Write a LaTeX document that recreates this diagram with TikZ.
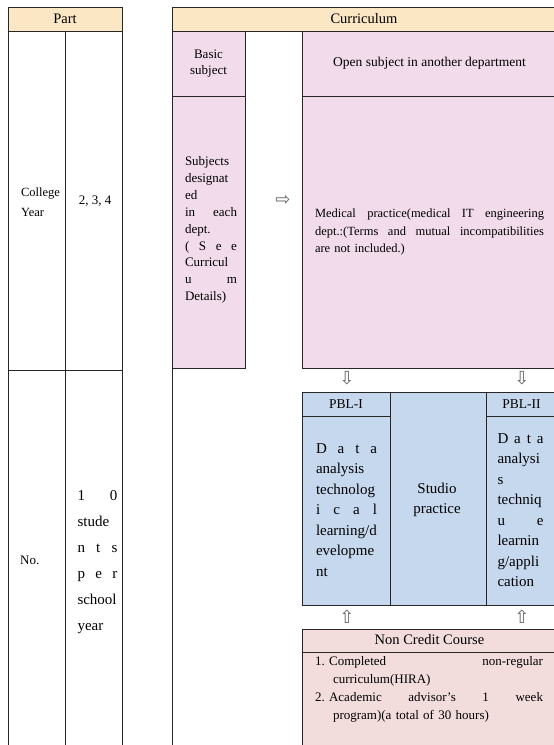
\documentclass[tikz,border=0pt]{standalone}
\usepackage{fontspec}
\setmainfont{Liberation Serif}
\newfontfamily\arrowfont{DejaVu Sans}
\definecolor{headfill}{HTML}{FCE7C4}
\definecolor{subjectfill}{HTML}{F2DCEC}
\definecolor{pblfill}{HTML}{C5D8EE}
\definecolor{creditfill}{HTML}{F2DCDC}

\def\scale{1pt}

\begin{document}
\begin{tikzpicture}[%
	x=\scale, y=\scale,%
	line/.style ={draw=black!85, line width=.7pt},%
	label/.style ={inner sep=0pt, font=\fontsize{13}{16}\selectfont},%
	title/.style ={inner sep=0pt, font=\fontsize{14.5}{16}\selectfont},%
	block/.style ={label, text width=#1, align=left},%
	big/.style ={font=\fontsize{15}{20.5}\selectfont},%
	arrow/.style ={inner sep=0pt, text=black!60, font=\arrowfont\fontsize{18}{18}\selectfont},%
	]
	\useasboundingbox (0,0) rectangle (554,-745);
	\clip (0,0) rectangle (554,-745);
%%% fill
	\fill [fill=headfill] (8,-7) rectangle (122,-31);
	\fill [fill=headfill] (172,-7) rectangle (557,-31);
	\fill [fill=subjectfill] (172,-31) rectangle (245,-368);
	\fill [fill=subjectfill] (302,-31) rectangle (557,-368);
	\fill [fill=pblfill] (302,-392) rectangle (557,-605);
	\fill [fill=creditfill] (302,-629) rectangle (557,-760);
%%% fill
%%% lines
	\draw [line] (8,-760) -- (8,-7) -- (122,-7) -- (122,-760);
	\draw [line] (8,-31) -- (122,-31);
	\draw [line] (65,-31) -- (65,-760);
	\draw [line] (8,-370) -- (122,-370);
	\draw [line] (172,-760) -- (172,-7) -- (557,-7);
	\draw [line] (172,-31) -- (557,-31);
	\draw [line] (172,-96) -- (245,-96);
	\draw [line] (172,-368) -- (245,-368) -- (245,-31);
	\draw [line] (302,-31) rectangle (557,-368);
	\draw [line] (302,-96) -- (557,-96);
	\draw [line] (302,-392) rectangle (557,-605);
	\foreach \x in {390,486}
		{\draw [line] (\x,-392) -- (\x,-605);}
	\draw [line] (302,-416) -- (390,-416);
	\draw [line] (486,-416) -- (557,-416);
	\draw [line] (302,-629) rectangle (557,-760);
	\draw [line] (302,-652) -- (557,-652);
%%% lines
%%% part
	\node [title] (part) at (65,-19) {Part};
	\node [block=37, font=\fontsize{12.5}{20}\selectfont] (college) at (39.5,-202) {College\\Year};
	\node [label] (years) at (95,-201) {2,\ 3,\ 4};
	\node [label, anchor=west] (number) at (20,-560) {No.};
	\node [block=40, font=\fontsize{15}{26}\selectfont] (students) at (97.5,-562)
		{1\hfill 0\\stude\\n\hfill t\hfill s\\p\hfill e\hfill r\\school\\year};
%%% part
%%% curriculum
	\node [title] (curriculum) at (364,-19) {Curriculum};
	\node [label, align=center] (basic) at (208.5,-64) {Basic\\subject};
	\node [block=52, font=\fontsize{13}{16.9}\selectfont] (designated) at (211,-230)
		{Subjects\\designat\\ed\\in\hfill each\\dept.\\(\hfill S\hfill e\hfill e\\Curricul\\u\hfill m\\Details)};
	\node [label, font=\fontsize{13.5}{16}\selectfont] (open) at (429.5,-63) {Open subject in another department};
	\node [block=229, font=\fontsize{12.5}{17.5}\selectfont] (medical) at (429.5,-232)
		{Medical\hfill practice(medical\hfill IT\hfill engineering\\dept.:(Terms\hfill and\hfill mutual\hfill incompatibilities\\are not included.)};
	\node [title, font=\fontsize{13.5}{16}\selectfont] (pbl1) at (346,-404) {PBL-I};
	\node [title, font=\fontsize{13.5}{16}\selectfont] (pbl2) at (521.5,-404) {PBL-II};
	\node [block=61, big] (pbl1text) at (346.5,-510)
		{D\hfill a\hfill t\hfill a\\analysis\\technolog\\i\hfill c\hfill a\hfill l\\learning/d\\evelopme\\nt};
	\node [label, big, align=center] (studio) at (437,-500) {Studio\\practice};
	\node [block=46, big] (pbl2text) at (520.5,-510)
		{D\hfill a\hfill t\hfill a\\analysi\\s\\techniq\\u\hfill e\\learnin\\g/appli\\cation};
	\node [title] (noncredit) at (429.5,-640) {Non Credit Course};
	\node [block=228, font=\fontsize{13}{18}\selectfont] (items) at (429,-689.5)
		{1.~Completed\hfill non-regular\\\hspace*{18pt}curriculum(HIRA)\\2.~Academic\hfill advisor's\hfill 1\hfill week\\\hspace*{18pt}program)(a total of 30 hours)};
%%% curriculum
%%% arrows
	\node [arrow] (right) at (283,-200) {⇨};
	\foreach \x/\name in {347/one,522/two}
		{\node [arrow] (down\name) at (\x,-378) {⇩};
		\node [arrow] (up\name) at (\x,-617) {⇧};}
%%% arrows
\end{tikzpicture}
\end{document}
